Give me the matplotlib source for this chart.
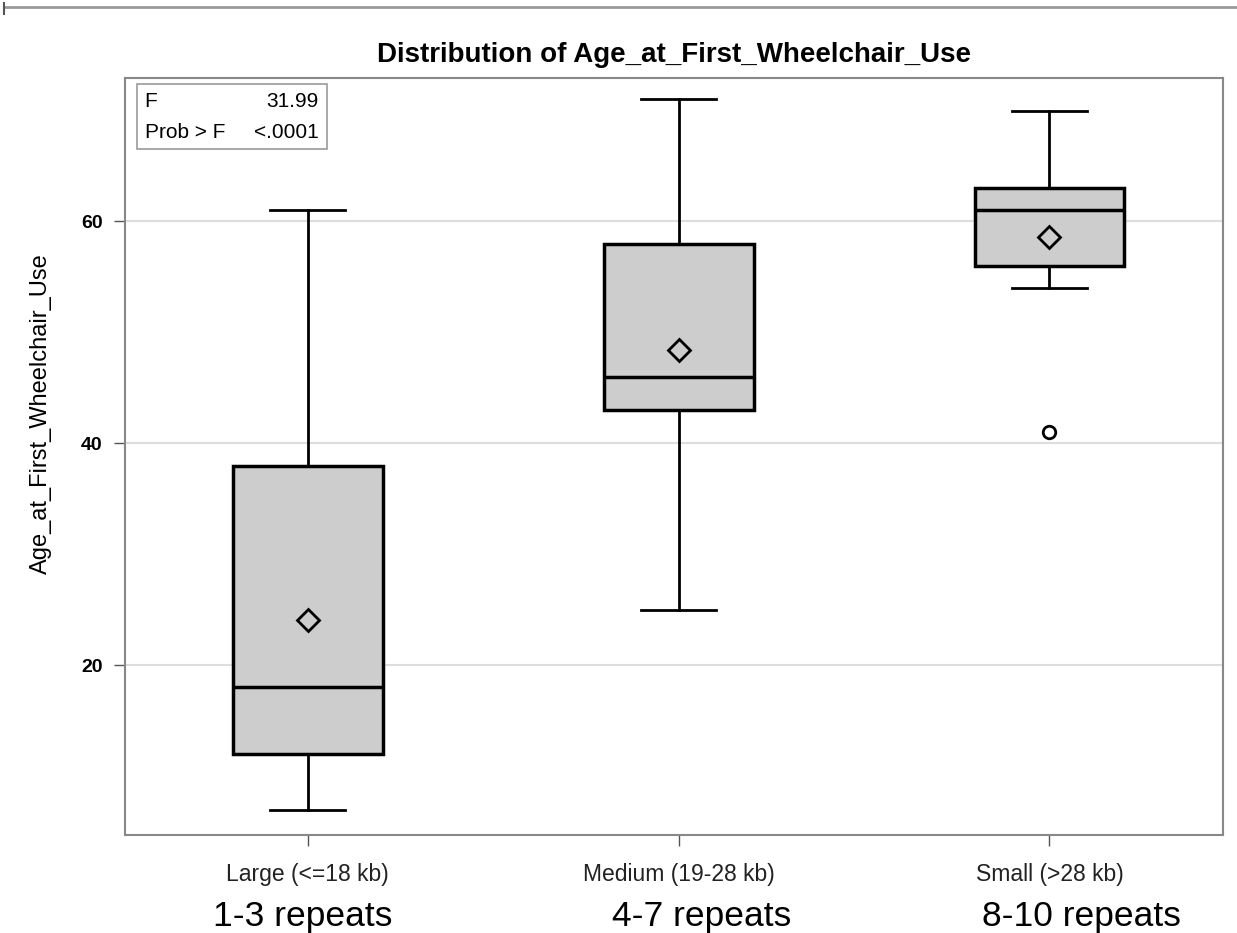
import matplotlib.pyplot as plt
from matplotlib.lines import Line2D
from matplotlib.patches import Rectangle

# values
groups = ["Large (<=18 kb)", "Medium (19-28 kb)", "Small (>28 kb)"]
repeats = ["1-3 repeats", "4-7 repeats", "8-10 repeats"]
whislo = [7, 25, 54]
q1 = [12, 43, 56]
med = [18, 46, 61]
q3 = [38, 58, 63]
whishi = [61, 71, 70]
means = [24.1, 48.4, 58.6]
fliers = [[], [], [41]]

sans = ["Liberation Sans", "DejaVu Sans"]

fig = plt.figure(figsize=(12.37, 9.33), dpi=100)
ax = fig.add_axes([0.101, 0.105, 0.888, 0.811])

stats = []
for i in range(len(groups)):
    stats.append(dict(label=groups[i], whislo=whislo[i], q1=q1[i], med=med[i],
                      q3=q3[i], whishi=whishi[i], mean=means[i], fliers=fliers[i]))

pos = list(range(len(groups)))
ax.bxp(stats, positions=pos, widths=0.404, showmeans=True, patch_artist=True,
       boxprops=dict(facecolor="#cdcdcd", edgecolor="black", linewidth=2.5),
       medianprops=dict(color="black", linewidth=2.5),
       whiskerprops=dict(color="black", linewidth=2),
       capprops=dict(color="black", linewidth=2),
       meanprops=dict(marker="D", markerfacecolor="none", markeredgecolor="black",
                      markersize=11, markeredgewidth=2),
       flierprops=dict(marker="o", markerfacecolor="none", markeredgecolor="black",
                       markersize=9, markeredgewidth=2),
       zorder=3)

ax.set_xlim(-0.493, 2.469)
ax.set_ylim(4.7, 72.9)
ax.set_yticks([20, 40, 60])
ax.yaxis.grid(True, color="#dddddd", linewidth=1.5, zorder=0)
ax.set_axisbelow(True)
ax.tick_params(axis="both", length=8, width=1, color="#555555", pad=8)
ax.tick_params(axis="x", pad=12)
for lab in ax.get_yticklabels():
    lab.set_family(sans)
    lab.set_fontsize(14)
    lab.set_fontweight("bold")
ax.set_xticks(pos)
ax.set_xticklabels(groups, family=sans, fontsize=16.5, color="#222222")
for s in ax.spines.values():
    s.set_color("#888888")
    s.set_linewidth(1.5)

fig.text(0.033, 0.557, "Age_at_First_Wheelchair_Use", rotation=90, ha="center",
         va="center", family=sans, fontsize=17)
ax.set_title("Distribution of Age_at_First_Wheelchair_Use", family=sans,
             fontsize=20, fontweight="bold", pad=12)

# statistics inset
ax.add_patch(Rectangle((0.011, 0.906), 0.173, 0.086, transform=ax.transAxes,
                       facecolor="white", edgecolor="#999999", linewidth=1.2, zorder=4))
ax.text(0.018, 0.962, "F", transform=ax.transAxes, va="baseline", ha="left",
        family=sans, fontsize=15, zorder=5)
ax.text(0.176, 0.962, "31.99", transform=ax.transAxes, va="baseline", ha="right",
        family=sans, fontsize=15, zorder=5)
ax.text(0.018, 0.921, "Prob > F", transform=ax.transAxes, va="baseline", ha="left",
        family=sans, fontsize=15, zorder=5)
ax.text(0.176, 0.921, "<.0001", transform=ax.transAxes, va="baseline", ha="right",
        family=sans, fontsize=15, zorder=5)

# second row of category labels
rx = [0.245, 0.5675, 0.874]
for x, t in zip(rx, repeats):
    fig.text(x, 0.0075, t, ha="center", va="baseline", fontsize=25.5, family=sans)

# rule at the top of the page
fig.add_artist(Line2D([0.003, 1.0], [0.993, 0.993], color="#999999", linewidth=2))
fig.add_artist(Line2D([0.003, 0.003], [0.985, 0.997], color="#555555", linewidth=1.5))

fig.savefig("out.png", dpi=100)
